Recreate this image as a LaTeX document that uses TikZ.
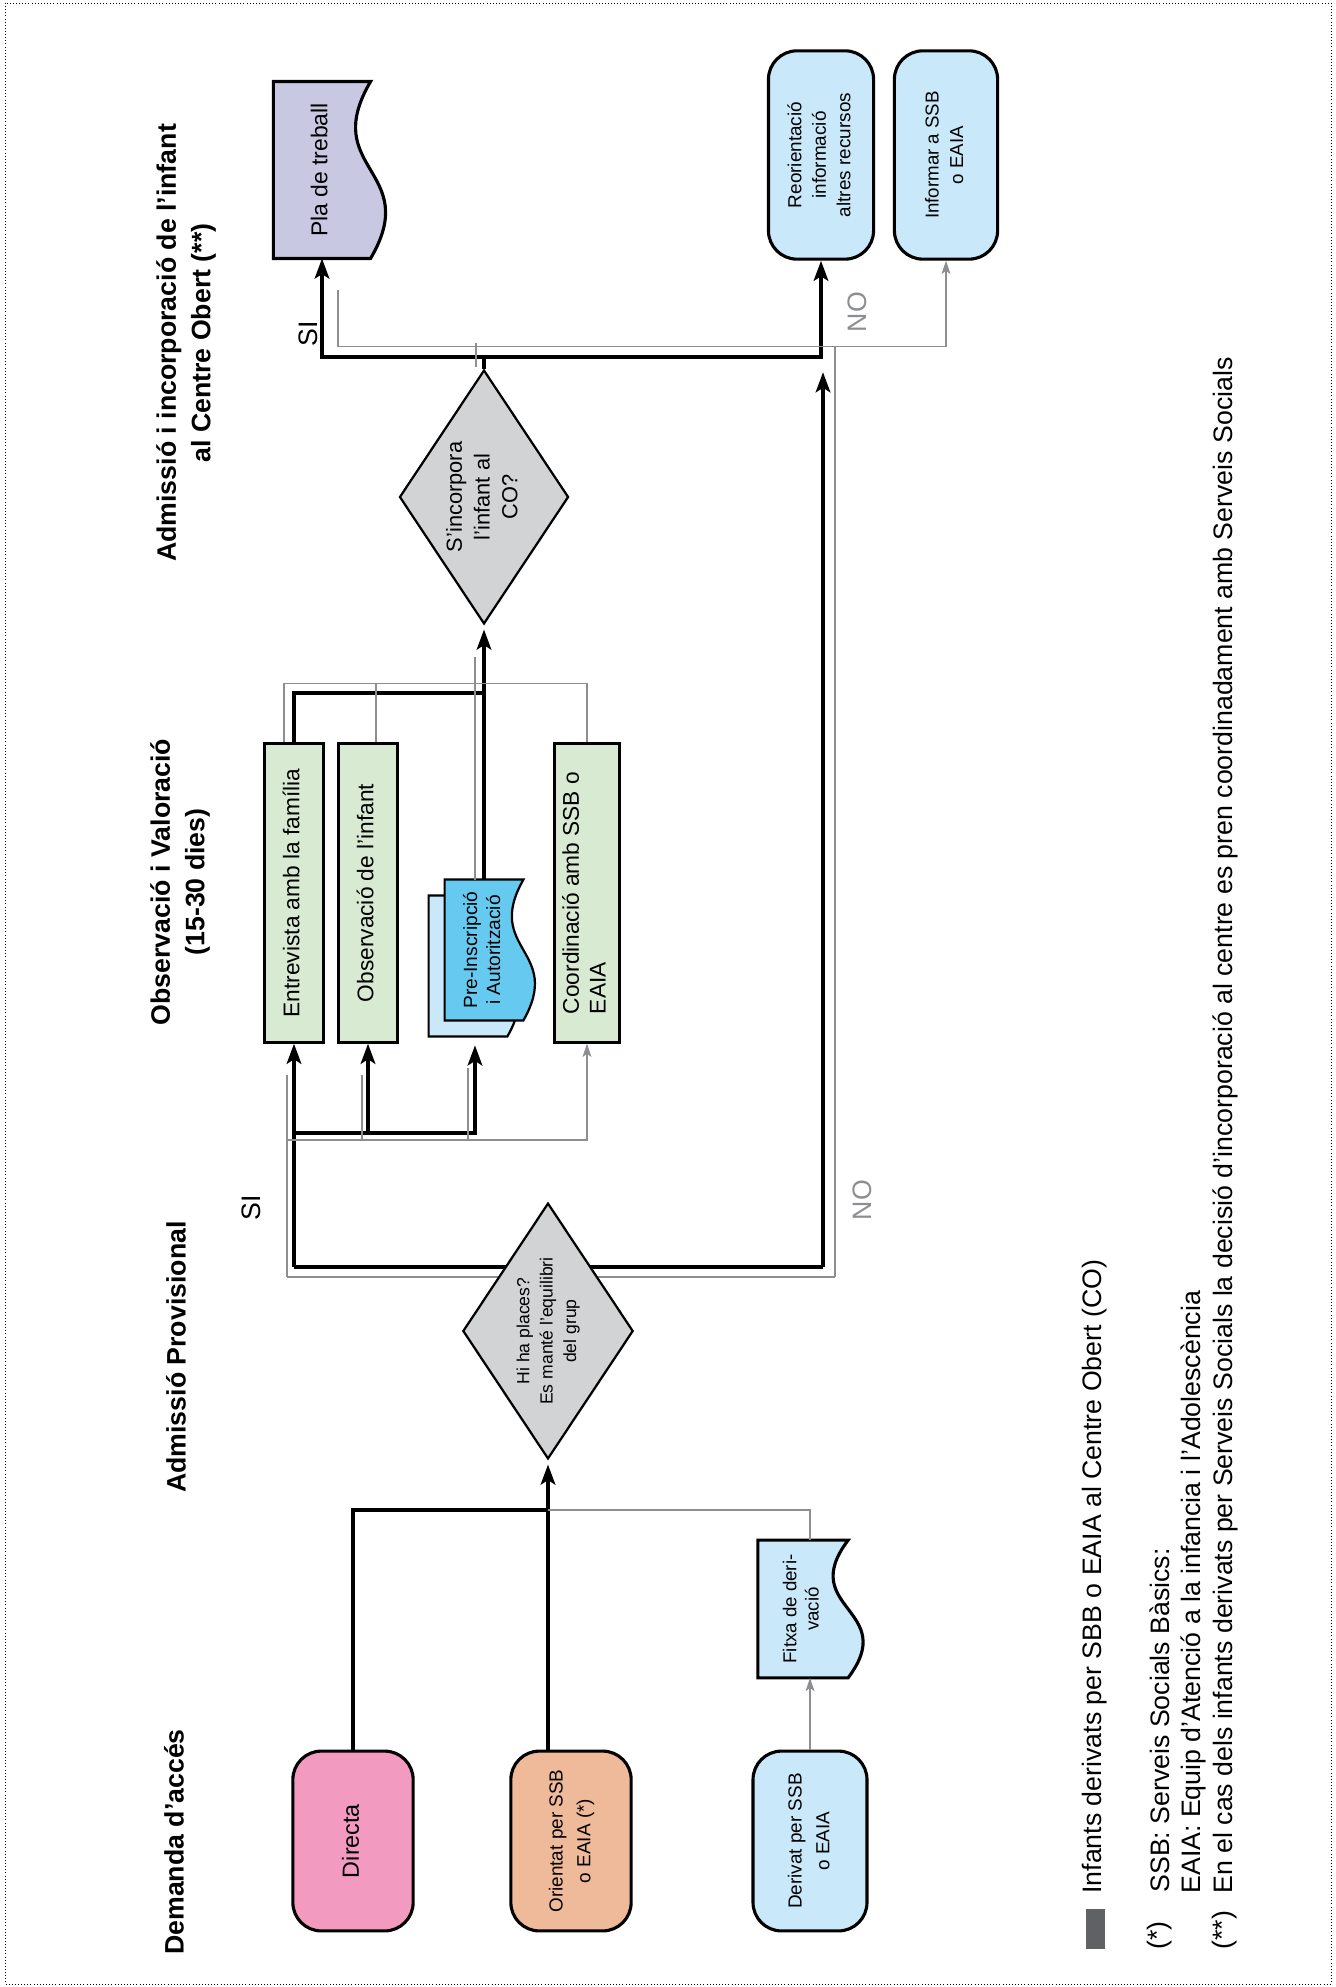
\documentclass[tikz,border=0pt]{standalone}
\usepackage{fontspec}
\setmainfont{Liberation Sans}
\usepackage{graphicx}
\usepackage{tikz}
\usetikzlibrary{calc,arrows.meta,shapes.geometric}
\definecolor{rosa}{RGB}{243,154,193}
\definecolor{pressec}{RGB}{239,186,153}
\definecolor{celeste}{RGB}{201,232,249}
\definecolor{blau}{RGB}{102,201,240}
\definecolor{verd}{RGB}{217,234,211}
\definecolor{lila}{RGB}{201,200,226}
\definecolor{gris}{RGB}{209,211,212}
\definecolor{grisline}{RGB}{140,142,145}
\definecolor{grisfosc}{RGB}{96,97,100}
\def\docshape[#1](#2)(#3){\draw[#1] (#2.south west) -- (#2.north west) -- (#2.north east) .. controls ($(#2.east)+(-#3,0)$) and ($(#2.east)+(#3,0)$) .. (#2.south east) -- cycle;}
\newcommand{\vtext}[2][c]{\rotatebox{90}{\begin{tabular}{@{}#1@{}}#2\end{tabular}}}

\begin{document}
\begin{tikzpicture}[x=0.0158cm, y=-0.0158cm,
	box/.style={draw, line width=1.4pt, rounded corners=0.45cm, inner sep=0pt},
	greenbox/.style={draw, line width=1.4pt, fill=verd, inner sep=0pt, minimum width=0.92cm, minimum height=4.71cm, font=\fontsize{10.2}{12}\selectfont},
	docbox/.style={inner sep=0pt},
	docline/.style={line width=1.4pt},
	choice/.style={diamond, draw, line width=1pt, fill=gris, inner sep=0pt, aspect=0.66},
	thickline/.style={line width=1.9pt},
	thickarrow/.style={line width=1.9pt, -{Stealth[length=9pt,width=6.5pt,inset=2pt]}},
	grayline/.style={line width=0.5pt, color=grisline},
	grayarrow/.style={line width=0.5pt, color=grisline, -{Stealth[length=6pt,width=4pt,inset=1.5pt]}},
	heading/.style={rotate=90, align=center, font=\fontsize{12}{15.5}\selectfont\bfseries},
	branch/.style={rotate=90, font=\fontsize{12}{14}\selectfont},
	legendtext/.style={rotate=90, anchor=west, inner sep=0pt, font=\fontsize{12}{14}\selectfont}]
		%%%%% START %%%%%
		
		\useasboundingbox (0,0) rectangle (1335,1987);
		\draw[densely dotted, line width=0.4pt] (5,3) rectangle (1331,1984);
		
		\node[heading] (h1) at (174,1842) {Demanda d’accés};
		\node[heading] (h2) at (176,1357) {Admissió Provisional};
		\node[heading] (h3) at (180,882) {Observació i Valoració\\(15-30 dies)};
		\node[heading] (h4) at (186,343) {Admissió i incorporació de l’infant\\al Centre Obert (**)};
		
		\coordinate (m1) at (548,1510);
		\coordinate (s1) at (294,1267);
		\coordinate (n1) at (823,1267);
		\coordinate (g1) at (287,1277);
		\coordinate (gn1) at (835,1277);
		\coordinate (b1) at (294,1133);
		\coordinate (gb) at (287,1140);
		\coordinate (j2) at (484,693);
		\coordinate (j3) at (484,357);
		
		\draw[grayline] (g1) -- (gn1);
		\draw[thickline] (s1) -- (n1);
		
		\node[box, fill=rosa, minimum width=1.90cm, minimum height=2.84cm, font=\fontsize{10.5}{13}\selectfont] (directa) at (353,1841) {\vtext{Directa}};
		\node[box, fill=pressec, minimum width=1.90cm, minimum height=2.84cm, font=\fontsize{8.5}{12.5}\selectfont] (orientat) at (571,1841) {\vtext{Orientat per SSB\\o EAIA (*)}};
		\node[box, fill=celeste, minimum width=1.80cm, minimum height=2.84cm, font=\fontsize{8.5}{12.5}\selectfont] (derivat) at (810,1841) {\vtext{Derivat per SSB\\o EAIA}};
		
		\node[docbox, minimum width=1.41cm, minimum height=2.16cm] (fitxa) at (803,1609) {};
		\docshape[docline, fill=celeste](fitxa)(52)
		\node[font=\fontsize{8.4}{10}\selectfont] (fitxatext) at (fitxa) {\vtext{Fitxa de deri-\\vació}};
		
		\node[choice, minimum width=2.69cm, minimum height=4.04cm, font=\fontsize{7.9}{10.5}\selectfont] (d1) at (548,1331) {\vtext{Hi ha places?\\Es manté l’equilibri\\del grup}};
		
		\node[greenbox] (entrevista) at (294,893) {\vtext{Entrevista amb la família}};
		\node[greenbox] (observacio) at (368,893) {\vtext{Observació de l’infant}};
		\node[greenbox, minimum width=1.04cm] (coordinacio) at (587,893) {\vtext[l]{Coordinació amb SSB o\\EAIA}};
		
		\node[docbox, minimum width=1.23cm, minimum height=2.21cm] (preback) at (468,966) {};
		\docshape[line width=1pt, fill=celeste](preback)(40)
		\node[docbox, minimum width=1.23cm, minimum height=2.21cm] (preins) at (484,950) {};
		\docshape[line width=1pt, fill=blau](preins)(40)
		\node[font=\fontsize{8.6}{10.3}\selectfont] (preinstext) at (preins) {\vtext{Pre-Inscripció\\i Autorització}};
		
		\node[choice, minimum width=2.67cm, minimum height=4.01cm, font=\fontsize{9.8}{12.5}\selectfont] (d2) at (484,497) {\vtext{S’incorpora\\l’infant al\\CO?}};
		
		\node[docbox, minimum width=1.52cm, minimum height=2.78cm] (pla) at (322,170) {};
		\docshape[docline, fill=lila](pla)(52)
		\node[font=\fontsize{10.3}{12}\selectfont] (platext) at (pla) {\vtext{Pla de treball}};
		
		\node[box, fill=celeste, minimum width=1.66cm, minimum height=3.29cm, font=\fontsize{8.5}{11}\selectfont] (reorient) at (821,155) {\vtext{Reorientació\\informació\\altres recursos}};
		\node[box, fill=celeste, minimum width=1.63cm, minimum height=3.29cm, font=\fontsize{8.4}{11}\selectfont] (informar) at (946,155) {\vtext{Informar a SSB\\o EAIA}};
		
		% demanda d'acces
		\draw[thickline] (directa.north) |- (m1);
		\draw[thickarrow, shorten >=2pt] (orientat.north -| d1.south) -- (d1.south);
		\draw[grayarrow] (derivat.north) -- (derivat.north |- fitxa.south);
		\draw[grayline] (fitxa.north -| derivat.north) |- (m1);
		
		% SI: observacio i valoracio
		\draw[thickarrow] (s1) -- (entrevista.south);
		\draw[thickarrow] (b1) -| (observacio.south);
		\draw[thickarrow, shorten >=4pt] (b1) -| ([xshift=0.11cm]preback.south);
		\draw[grayline, shorten >=0.5cm] (g1) -- (g1 |- entrevista.south);
		\draw[grayarrow] (gb) -| (coordinacio.south);
		\draw[grayline, shorten >=0.5cm] ($(gb -| observacio.south)+(-6,0)$) -- ($(observacio.south)+(-6,0)$);
		\draw[grayline, shorten >=0.5cm] (gb -| preback.south) -- (preback.south);
		
		\draw[thickline] (entrevista.north) |- (j2);
		\draw[thickarrow, shorten >=2pt] (preins.north) -- (d2.south);
		\draw[grayline] ($(entrevista.north)+(-10,0)$) |- ($(coordinacio.north)+(0,-59)$) -- (coordinacio.north);
		\draw[grayline] ($(observacio.north)+(8,0)$) -- ++(0,-59);
		\draw[grayline] ($(preins.north)+(-9,0)$) -- ($(d2.south)+(-9,32)$);
		
		% admissio i incorporacio
		\draw[thickline] (d2.north) -- (j3);
		\draw[thickarrow] (j3) -| (pla.south);
		\draw[thickarrow] (j3) -| (reorient.south);
		\draw[thickarrow, shorten >=0.24cm] (n1) -- (n1 |- j3);
		\draw[grayline] ($(d2.north)+(-8,-2)$) -- ++(0,-24);
		\draw[grayline] ($(pla.south)+(16,32)$) |- ($(informar.south)+(0,86)$);
		\draw[grayarrow] ($(informar.south)+(0,86)$) -- (informar.south);
		\draw[grayline] (gn1) -- ($(gn1 |- informar.south)+(0,86)$);
		
		\node[branch] (si1) at (251,1208) {SI};
		\node[branch, color=grisline] (no1) at (862,1200) {NO};
		\node[branch] (si2) at (308,334) {SI};
		\node[branch, color=grisline] (no2) at (857,312) {NO};
		
		% llegenda
		\node[fill=grisfosc, minimum width=0.30cm, minimum height=0.62cm, inner sep=0pt] (mostra) at (1095,1929) {};
		\node[legendtext] (ll1) at (1095,1894) {Infants derivats per SBB o EAIA al Centre Obert (CO)};
		\node[legendtext] (ll2a) at (1160,1950) {(*)};
		\node[legendtext] (ll2) at (1160,1893) {SSB: Serveis Socials Bàsics:};
		\node[legendtext] (ll3) at (1193,1894) {EAIA: Equip d’Atenció a la infancia i l’Adolescència};
		\node[legendtext] (ll4a) at (1225,1950) {(**)};
		\node[legendtext] (ll4) at (1225,1894) {En el cas dels infants derivats per Serveis Socials la decisió d’incorporació al centre es pren coordinadament amb Serveis Socials};
		
		%%%%% END %%%%%
\end{tikzpicture}
\end{document}
